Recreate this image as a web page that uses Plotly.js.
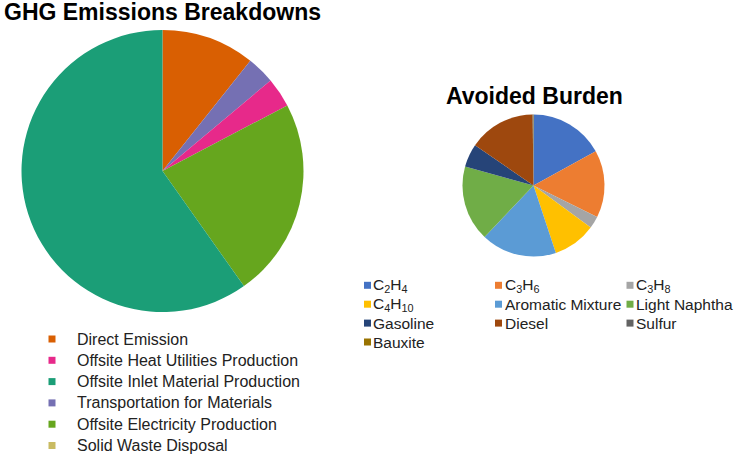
<!DOCTYPE html>
<html>
<head>
<meta charset="utf-8">
<script src="https://cdn.plot.ly/plotly-3.0.1.min.js"></script>
<style>html,body{margin:0;padding:0;background:#fff;}#chart{width:734px;height:454px;}</style>
</head>
<body>
<div id="chart"></div>
<script>
// ---- GHG Emissions Breakdowns (legend order) ----
const ghgLabels = ["Direct Emission", "Offsite Heat Utilities Production", "Offsite Inlet Material Production",
                   "Transportation for Materials", "Offsite Electricity Production", "Solid Waste Disposal"];
const ghgValues = [10.7, 3.4, 59.8, 3.2, 22.9, 0];
const ghgColors = ["#d95f02", "#e7298a", "#1b9e77", "#7570b3", "#66a61e", "#c9bb62"];
// order in which slices are drawn clockwise from 12 o'clock
const ghgSliceOrder = [0, 3, 1, 4, 2, 5];

// ---- Avoided Burden ----
const abLabels = ["C<sub>2</sub>H<sub>4</sub>", "C<sub>3</sub>H<sub>6</sub>", "C<sub>3</sub>H<sub>8</sub>",
                  "C<sub>4</sub>H<sub>10</sub>", "Aromatic Mixture", "Light Naphtha",
                  "Gasoline", "Diesel", "Sulfur", "Bauxite"];
const abValues = [17.0, 15.3, 2.8, 9.8, 17.2, 17.2, 5.3, 15.2, 0.1, 0.1];
const abColors = ["#4472c4", "#ed7d31", "#a5a5a5", "#ffc000", "#5b9bd5", "#70ad47",
                  "#264478", "#9e480e", "#636363", "#997300"];

const W = 734, H = 454;
const FONT = "Liberation Sans, Arial, Helvetica, sans-serif";
const px = v => v / W;
const py = v => 1 - v / H;

const traces = [
  {
    type: "pie",
    labels: ghgSliceOrder.map(i => ghgLabels[i]),
    values: ghgSliceOrder.map(i => ghgValues[i]),
    marker: {colors: ghgSliceOrder.map(i => ghgColors[i]), line: {width: 0}},
    sort: false, direction: "clockwise", rotation: 0,
    textinfo: "none", hoverinfo: "label+percent", showlegend: false,
    domain: {x: [px(21.5), px(303.5)], y: [py(312), py(30)]}
  },
  {
    type: "pie",
    labels: abLabels,
    values: abValues,
    marker: {colors: abColors, line: {width: 0}},
    sort: false, direction: "clockwise", rotation: 0,
    textinfo: "none", hoverinfo: "label+percent", showlegend: false,
    domain: {x: [px(462.5), px(604.5)], y: [py(256.5), py(114.5)]}
  }
];

const annotations = [];
const shapes = [];

function legendItem(color, label, sx, tx, cy, size) {
  shapes.push({
    type: "rect", xref: "paper", yref: "paper",
    xsizemode: "pixel", ysizemode: "pixel",
    xanchor: px(sx), yanchor: py(cy),
    x0: -3.5, x1: 3.5, y0: -3.5, y1: 3.5,
    fillcolor: color, line: {width: 0}
  });
  annotations.push({
    xref: "paper", yref: "paper", x: px(tx), y: py(cy),
    xanchor: "left", yanchor: "middle", showarrow: false,
    text: label, font: {family: FONT, size: size, color: "#222"}
  });
}

// left legend
ghgLabels.forEach((lab, i) => {
  legendItem(ghgColors[i], lab, 52, 75, 339 + i * 21.3, 16);
});
// right legend: 3 columns, row-major
const colSq = [367.5, 498.5, 630];
const colTx = [371, 503, 633.5];
abLabels.forEach((lab, i) => {
  const r = Math.floor(i / 3), c = i % 3;
  legendItem(abColors[i], lab, colSq[c], colTx[c], 285.3 + r * 18.9, 15.5);
});

annotations.push({
  xref: "paper", yref: "paper", x: px(534), y: py(95.5),
  xanchor: "center", yanchor: "middle", showarrow: false,
  text: "<b>Avoided Burden</b>", font: {family: FONT, size: 23, color: "#000"}
});

const layout = {
  width: W, height: H,
  margin: {l: 0, r: 0, t: 0, b: 0},
  paper_bgcolor: "#fff", plot_bgcolor: "#fff",
  title: {
    text: "<b>GHG Emissions Breakdowns</b>",
    font: {family: FONT, size: 23, color: "#000"},
    x: px(162.5), xanchor: "center", xref: "paper",
    y: py(12), yanchor: "middle", yref: "container"
  },
  showlegend: false,
  annotations: annotations,
  shapes: shapes
};

Plotly.newPlot("chart", traces, layout, {displayModeBar: false, staticPlot: true});
</script>
</body>
</html>
